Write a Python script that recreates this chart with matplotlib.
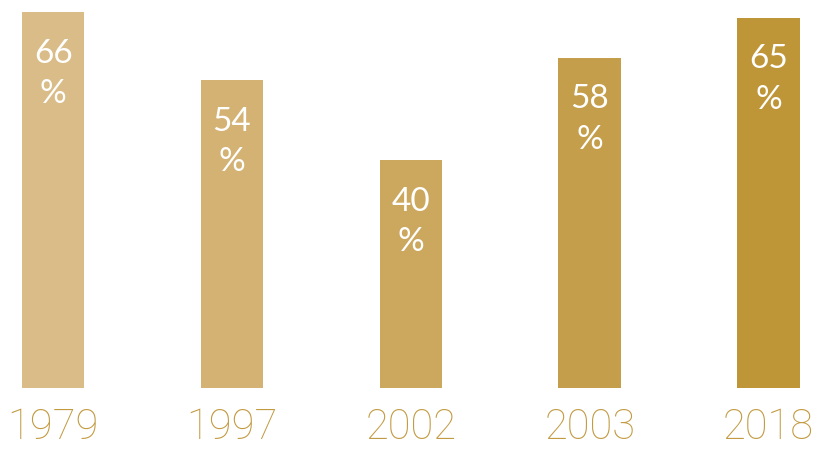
import matplotlib
matplotlib.use("Agg")
import matplotlib.pyplot as plt

# data
years = ["1979", "1997", "2002", "2003", "2018"]
values = [66, 54, 40, 58, 65]
bar_colors = ["#D9BC88", "#D3B274", "#CCA85F", "#C49E4A", "#BE9637"]
tick_color = "#C29A40"

fig = plt.figure(figsize=(8.23, 4.53), dpi=100)
ax = fig.add_axes([0, 65 / 453, 1, 388 / 453])

x = list(range(len(years)))
ax.bar(x, values, width=0.35, color=bar_colors)

for xi, v in zip(x, values):
    ax.text(xi, v - 7.3, str(v), ha="center", va="center", color="white",
            fontsize=24, family="Lato")
    ax.text(xi, v - 14.4, "%", ha="center", va="center", color="white",
            fontsize=24, family="Lato")

ax.set_xlim(-0.297, 4.304)
ax.set_ylim(0, 66 * 388 / 376)
ax.set_xticks(x)
ax.set_xticklabels(years, color=tick_color, fontsize=30, family="Roboto",
                   fontweight="light")
ax.tick_params(axis="x", length=0, pad=14)
ax.set_yticks([])
for s in ax.spines.values():
    s.set_visible(False)

fig.savefig("out.png", dpi=100)
